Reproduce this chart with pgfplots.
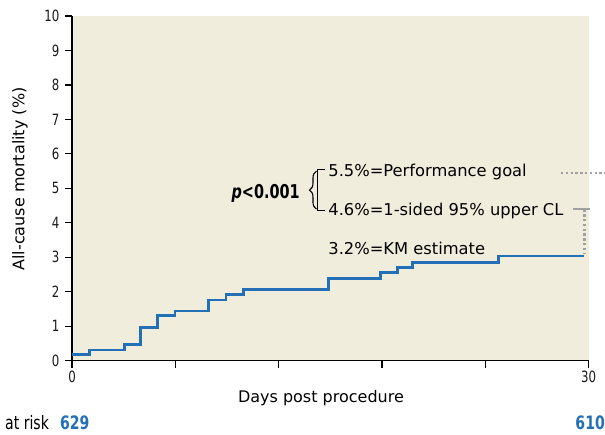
\documentclass[border=0pt]{standalone}
\usepackage{pgfplots}
\pgfplotsset{compat=1.18}
\usepackage{fontspec}
\setmainfont{DejaVu Sans}
\newfontfamily\cond[FakeStretch=0.76]{DejaVu Sans}
\usetikzlibrary{decorations.pathreplacing}
\definecolor{bgcream}{RGB}{241,237,221}
\definecolor{kmblue}{RGB}{35,112,182}
\definecolor{refgray}{RGB}{160,160,160}

\begin{document}
\begin{tikzpicture}
    % page = 605x435, axis origin at pixel (72,360.7)
    \path[use as bounding box] (-72bp,-74.3bp) rectangle (533bp,360.7bp);
    \begin{axis}[
            scale only axis,
            width = 516.5bp, height = 344.7bp, %
            xmin = 0, xmax = 30, %
            ymin = 0, ymax = 10, %
            axis lines = left,
            axis line style = {-, line width=1.4bp, black},
            axis background/.style = {fill=bgcream},
            xtick = {0,6,...,30},
            xticklabels = {0,,,,,30},
            ytick = {0,1,...,10},
            tick align = outside,
            major tick length = 7bp,
            tick style = {line width=1.2bp, black},
            /pgf/number format/assume math mode=true,
            tick label style = {font=\cond\fontsize{15.5bp}{17bp}\selectfont, text=black!90},
            yticklabel style = {xshift=-2bp},
            clip = false,
        ]
        %% KM estimate, all-cause mortality
        \addplot[const plot, kmblue, line width=2.8bp] coordinates {
                (0, 0.19)
                (1.0, 0.31)
                (3.04, 0.48)
                (4.0, 0.97)
                (4.95, 1.30)
                (5.98, 1.44)
                (7.92, 1.76)
                (8.94, 1.93)
                (9.95, 2.07)
                (14.9, 2.39)
                (17.9, 2.55)
                (18.9, 2.71)
                (19.8, 2.86)
                (24.76, 3.04)
                (29.76, 3.04)
            };
        %% reference lines
        \draw[refgray, line width=2.4bp, dash pattern=on 2.4bp off 2.4bp] (axis cs:28.4,5.45) -- (axis cs:30.96,5.45);
        \draw[refgray, line width=1.8bp] (axis cs:29.1,4.39) -- (axis cs:30.1,4.39);
        \draw[refgray, line width=2.4bp, dash pattern=on 2.4bp off 2.4bp] (axis cs:29.76,4.39) -- (axis cs:29.76,3.1);
        %% annotations
        \node[anchor=base west, inner sep=0, font=\fontsize{16.3bp}{18bp}\selectfont] at (axis cs:14.88,5.34) {5.5\%=Performance goal};
        \node[anchor=base west, inner sep=0, font=\fontsize{16.3bp}{18bp}\selectfont] at (axis cs:14.88,4.20) {4.6\%=1-sided 95\% upper CL};
        \node[anchor=base west, inner sep=0, font=\fontsize{16.3bp}{18bp}\selectfont] at (axis cs:14.88,3.095) {3.2\%=KM estimate};
        \node[anchor=base east, inner sep=0, font=\cond\bfseries\fontsize{19bp}{20bp}\selectfont] at (axis cs:13.24,4.72) {\textit{p}<0.001};
        \draw[black, line width=1.1bp] (axis cs:14.69,5.55) -- (axis cs:14.25,5.55) -- (axis cs:14.25,4.35) -- (axis cs:14.69,4.35);
        \draw[black, line width=1.1bp, decorate, decoration={brace, amplitude=7bp}] (axis cs:14.2,4.4) -- (axis cs:14.2,5.5);
        %% axis titles and numbers at risk
        \node[rotate=90, font=\fontsize{16bp}{18bp}\selectfont] at (axis cs:-3.02,5.27) {All-cause mortality (\%)};
        \node[font=\fontsize{16bp}{18bp}\selectfont] at (axis cs:14.46,-1.08) {Days post procedure};
        \node[anchor=base west, inner sep=0, font=\cond\fontsize{18.5bp}{20bp}\selectfont] at (axis cs:-3.89,-1.99) {at risk};
        \node[anchor=base west, inner sep=0, text=kmblue, font=\cond\bfseries\fontsize{18.5bp}{20bp}\selectfont] at (axis cs:-0.70,-1.99) {629};
        \node[anchor=base east, inner sep=0, text=kmblue, font=\cond\bfseries\fontsize{18.5bp}{20bp}\selectfont] at (axis cs:30.96,-1.99) {610};
    \end{axis}
\end{tikzpicture}
\end{document}
